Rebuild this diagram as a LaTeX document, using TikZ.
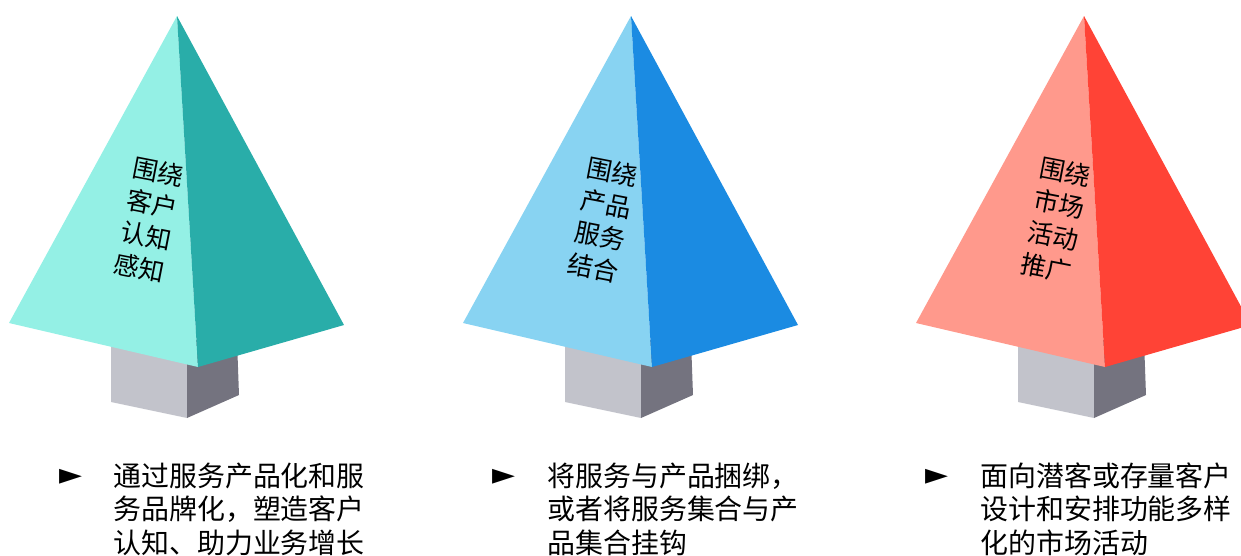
\documentclass[tikz,border=0pt]{standalone}
\usepackage{fontspec}
\setmainfont{Noto Sans CJK SC}
\newfontfamily\pfeilfont{DejaVu Sans}
\usetikzlibrary{positioning}
\definecolor{tuerkisHell}{HTML}{94F0E5}
\definecolor{tuerkisDunkel}{HTML}{29ADA9}
\definecolor{blauHell}{HTML}{88D3F2}
\definecolor{blauDunkel}{HTML}{1B8BE2}
\definecolor{rotHell}{HTML}{FF998C}
\definecolor{rotDunkel}{HTML}{FF4336}
\definecolor{stammHell}{HTML}{C2C3CB}
\definecolor{stammDunkel}{HTML}{74737F}
\tikzstyle{stammlinks}=[fill=stammHell,draw=none]
\tikzstyle{stammrechts}=[fill=stammDunkel,draw=none]
\tikzstyle{spitze}=[inner sep=0pt,rotate=-11,align=left,font=\fontsize{14.5}{18.6}\selectfont]
\tikzstyle{pfeil}=[inner sep=0pt,font=\pfeilfont\fontsize{17}{18}\selectfont]
\tikzstyle{beschreibung}=[inner sep=0pt,anchor=base west,align=left,font=\fontsize{15.9}{18.8}\selectfont]

\begin{document}
\begin{tikzpicture}[x=0.02cm,y=-0.02cm]

    \useasboundingbox (0,0) rectangle (1241,555);
    \clip (0,0) rectangle (1241,555);

    % Baum 1
    \begin{scope}
      \fill[stammlinks] (111,340) -- (111,402) -- (187,418) -- (187,340) -- cycle;
      \fill[stammrechts] (187,340) -- (187,418) -- (239,395) -- (237,340) -- cycle;
      \fill[tuerkisHell] (177,16) -- (9,323) -- (198,367) -- cycle;
      \fill[tuerkisDunkel] (177,16) -- (198,367) -- (344,325) -- cycle;
    \end{scope}
    \node[spitze] (spitze1) at (149,220) {围绕\\客户\\认知\\感知};

    % Baum 2
    \begin{scope}[shift={(454,0)}]
      \fill[stammlinks] (111,340) -- (111,402) -- (187,418) -- (187,340) -- cycle;
      \fill[stammrechts] (187,340) -- (187,418) -- (239,395) -- (237,340) -- cycle;
      \fill[blauHell] (177,16) -- (9,323) -- (198,367) -- cycle;
      \fill[blauDunkel] (177,16) -- (198,367) -- (344,325) -- cycle;
    \end{scope}
    \node[spitze] (spitze2) at (603,220) {围绕\\产品\\服务\\结合};

    % Baum 3
    \begin{scope}[shift={(907,0)}]
      \fill[stammlinks] (111,340) -- (111,402) -- (187,418) -- (187,340) -- cycle;
      \fill[stammrechts] (187,340) -- (187,418) -- (239,395) -- (237,340) -- cycle;
      \fill[rotHell] (177,16) -- (9,323) -- (198,367) -- cycle;
      \fill[rotDunkel] (177,16) -- (198,367) -- (344,325) -- cycle;
    \end{scope}
    \node[spitze] (spitze3) at (1056,220) {围绕\\市场\\活动\\推广};

    % Texte
    \node[pfeil] (pfeil1) at (71,477) {►};
    \node[beschreibung] (text1) at (113,553) {通过服务产品化和服\\务品牌化，塑造客户\\认知、助力业务增长};
    \node[pfeil] (pfeil2) at (504,477) {►};
    \node[beschreibung] (text2) at (547,553) {将服务与产品捆绑，\\或者将服务集合与产\\品集合挂钩};
    \node[pfeil] (pfeil3) at (937,477) {►};
    \node[beschreibung] (text3) at (980,553) {面向潜客或存量客户\\设计和安排功能多样\\化的市场活动};

\end{tikzpicture}
\end{document}
